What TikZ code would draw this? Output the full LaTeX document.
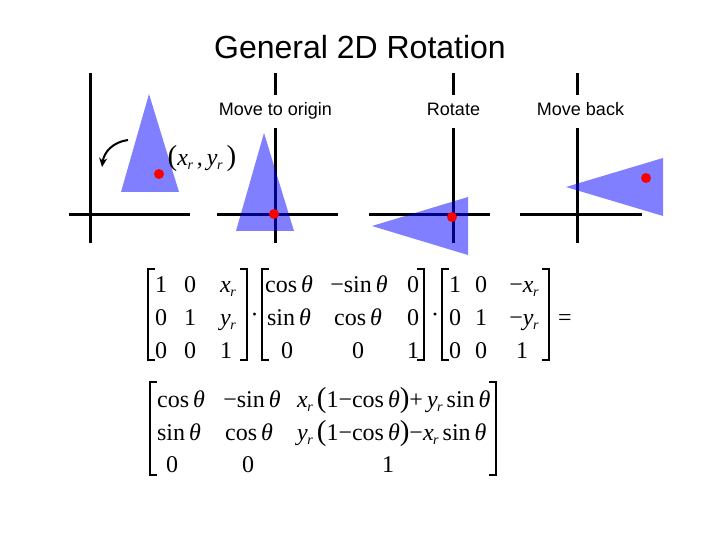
\documentclass[tikz,border=0pt]{standalone}
\usepackage{fontspec}
\setmainfont{Liberation Sans}
\newfontfamily\tnr{Liberation Serif}
\usetikzlibrary{arrows.meta}
\newcommand\vx{\textit{x}\kern-0.5pt\raisebox{-4pt}{\fontsize{14}{14}\selectfont\textit{r}}}
\newcommand\vy{\textit{y}\kern-0.5pt\raisebox{-4pt}{\fontsize{14}{14}\selectfont\textit{r}}}
\newcommand\tht{\textit{θ}}
\newcommand\mi{−}
\newcommand\bpar[1]{{\fontsize{29}{29}\selectfont #1}}
\tikzset{
  axis/.style={line width=3pt, black},
  tri/.style={fill=blue, fill opacity=0.5},
  pivot/.style={circle, fill=red, inner sep=0pt, minimum size=10pt},
  lbl/.style={fill=white, font=\fontsize{18}{18}\selectfont, text height=13pt, text depth=4pt, inner ysep=8pt, inner xsep=3pt, anchor=base},
  ent/.style={font=\tnr\fontsize{24}{24}\selectfont, inner sep=0pt, anchor=base},
  brk/.style={line width=1.6pt, black},
  rotarrow/.style={line width=2pt, -{Stealth[length=9pt,width=8pt]}}
}
\begin{document}
\begin{tikzpicture}[x=1pt,y=-1pt]
\useasboundingbox (0,0) rectangle (720,540);
% title
\node[font=\fontsize{32}{32}\selectfont, anchor=base, inner sep=0pt] (title) at (360,59) {General 2D Rotation};
% axes
\draw[axis] (90,73) -- (90,243);   \draw[axis] (69,215) -- (190,215);
\draw[axis] (275,73) -- (275,243); \draw[axis] (217,215) -- (338,215);
\draw[axis] (453,73) -- (453,243); \draw[axis] (369,215) -- (490,215);
\draw[axis] (577,73) -- (577,243); \draw[axis] (520,215) -- (642,215);
% labels
\node[lbl] (l2) at (275.5,116) {Move to origin};
\node[lbl] (l3) at (453.5,116) {Rotate};
\node[lbl] (l4) at (580.5,116) {Move back};
% triangles
\fill[tri] (149,94) -- (121,192) -- (179,192) -- cycle;
\fill[tri] (264,133) -- (236,231) -- (294,231) -- cycle;
\fill[tri] (372,226) -- (468,197) -- (468,255) -- cycle;
\fill[tri] (566,187) -- (663,158) -- (663,216) -- cycle;
% pivots
\node[pivot] (p1) at (159,174) {};
\node[pivot] (p2) at (274,214) {};
\node[pivot] (p3) at (452,217) {};
\node[pivot] (p4) at (646,178) {};
% pivot label
\node[font=\tnr\fontsize{24}{24}\selectfont, inner sep=0pt, anchor=base] (pl) at (202,166) {\bpar{(}\vx\,,\,\vy\,\bpar{)}};
% rotation arrow
\coordinate (a1) at (128,140);
\coordinate (a2) at (102,167);
\draw[rotarrow] (a1) .. controls (113,142) and (104,152) .. (a2);

% ---- matrix 1
\draw[brk] (155,269) -- (148,269) -- (148,360) -- (155,360);
\draw[brk] (240,269) -- (247,269) -- (247,360) -- (240,360);
\node[ent] (m11) at (161,292) {1};
\node[ent] (m12) at (190,292) {0};
\node[ent] (m13) at (228,292) {\vx};
\node[ent] (m21) at (161,325) {0};
\node[ent] (m22) at (190,325) {1};
\node[ent] (m23) at (228,325) {\vy};
\node[ent] (m31) at (161,358) {0};
\node[ent] (m32) at (190,358) {0};
\node[ent] (m33) at (226,358) {1};
\node[ent, anchor=center] (d1) at (254.5,318) {·};
% ---- matrix 2
\draw[brk] (269,269) -- (262,269) -- (262,360) -- (269,360);
\draw[brk] (417,269) -- (424,269) -- (424,360) -- (417,360);
\node[ent] (r11) at (289,292) {cos\,\tht};
\node[ent] (r12) at (359,292) {\mi sin\,\tht};
\node[ent] (r13) at (413,292) {0};
\node[ent] (r21) at (289,325) {sin\,\tht};
\node[ent] (r22) at (358,325) {cos\,\tht};
\node[ent] (r23) at (413,325) {0};
\node[ent] (r31) at (287,358) {0};
\node[ent] (r32) at (358,358) {0};
\node[ent] (r33) at (413,358) {1};
\node[ent, anchor=center] (d2) at (435,318) {·};
% ---- matrix 3
\draw[brk] (449,269) -- (442,269) -- (442,360) -- (449,360);
\draw[brk] (542,269) -- (549,269) -- (549,360) -- (542,360);
\node[ent] (t11) at (455,292) {1};
\node[ent] (t12) at (481,292) {0};
\node[ent] (t13) at (524,292) {\mi\vx};
\node[ent] (t21) at (455,325) {0};
\node[ent] (t22) at (481,325) {1};
\node[ent] (t23) at (524,325) {\mi\vy};
\node[ent] (t31) at (455,358) {0};
\node[ent] (t32) at (481,358) {0};
\node[ent] (t33) at (522,358) {1};
\node[ent] (eq) at (565,325) {=};
% ---- result matrix
\draw[brk] (157,382) -- (150,382) -- (150,475) -- (157,475);
\draw[brk] (489,382) -- (496,382) -- (496,475) -- (489,475);
\node[ent] (s11) at (181,407) {cos\,\tht};
\node[ent] (s12) at (252,407) {\mi sin\,\tht};
\node[ent, anchor=base west] (s13) at (297,407) {\vx\,\bpar{(}1\mi cos\,\tht\bpar{)}+\,\vy\,sin\,\tht};
\node[ent] (s21) at (179,440) {sin\,\tht};
\node[ent] (s22) at (249,440) {cos\,\tht};
\node[ent, anchor=base west] (s23) at (297,440) {\vy\,\bpar{(}1\mi cos\,\tht\bpar{)}\mi\vx\,sin\,\tht};
\node[ent] (s31) at (172,472) {0};
\node[ent] (s32) at (248,472) {0};
\node[ent] (s33) at (388,472) {1};
\end{tikzpicture}
\end{document}
